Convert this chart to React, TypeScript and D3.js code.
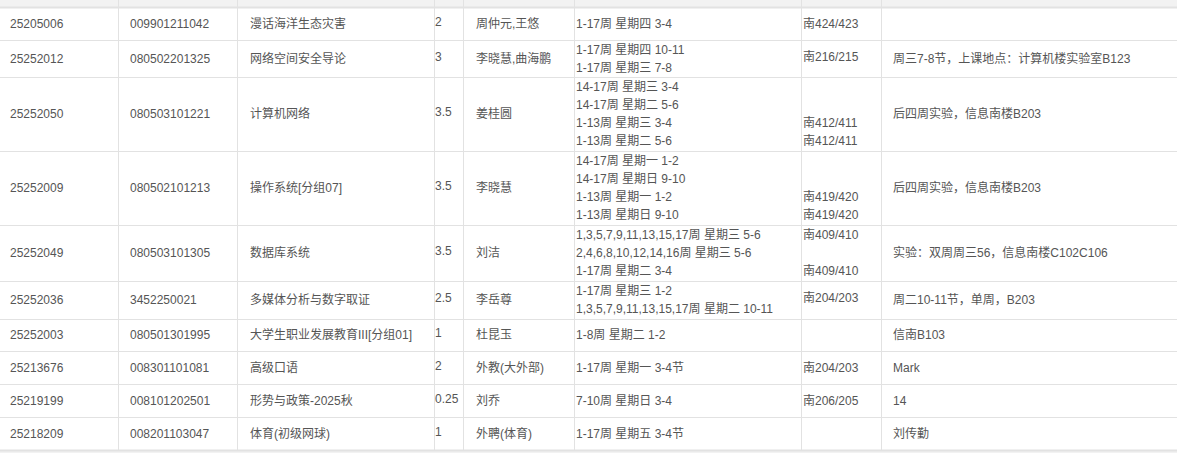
import React from 'react';
import * as d3 from 'd3';

const ids = ['25205006', '25252012', '25252050', '25252009', '25252049', '25252036', '25252003', '25213676', '25219199', '25218209'];
const codes = ['009901211042', '080502201325', '080503101221', '080502101213', '080503101305', '3452250021', '080501301995', '008301101081', '008101202501', '008201103047'];
const names = ['漫话海洋生态灾害', '网络空间安全导论', '计算机网络', '操作系统[分组07]', '数据库系统', '多媒体分析与数字取证', '大学生职业发展教育III[分组01]', '高级口语', '形势与政策-2025秋', '体育(初级网球)'];
const credits = ['2', '3', '3.5', '3.5', '3.5', '2.5', '1', '2', '0.25', '1'];
const teachers = ['周仲元,王悠', '李晓慧,曲海鹏', '姜桂圆', '李晓慧', '刘洁', '李岳尊', '杜昆玉', '外教(大外部)', '刘乔', '外聘(体育)'];
const times = [
  ['1-17周 星期四 3-4'],
  ['1-17周 星期四 10-11', '1-17周 星期三 7-8'],
  ['14-17周 星期三 3-4', '14-17周 星期二 5-6', '1-13周 星期三 3-4', '1-13周 星期二 5-6'],
  ['14-17周 星期一 1-2', '14-17周 星期日 9-10', '1-13周 星期一 1-2', '1-13周 星期日 9-10'],
  ['1,3,5,7,9,11,13,15,17周 星期三 5-6', '2,4,6,8,10,12,14,16周 星期三 5-6', '1-17周 星期二 3-4'],
  ['1-17周 星期三 1-2', '1,3,5,7,9,11,13,15,17周 星期二 10-11'],
  ['1-8周 星期二 1-2'],
  ['1-17周 星期一 3-4节'],
  ['7-10周 星期日 3-4'],
  ['1-17周 星期五 3-4节'],
];
// rooms: same length as times -> line-aligned, otherwise centred
const rooms = [
  ['南424/423'],
  ['南216/215'],
  ['', '', '南412/411', '南412/411'],
  ['', '', '南419/420', '南419/420'],
  ['南409/410', '', '南409/410'],
  ['南204/203'],
  [''],
  ['南204/203'],
  ['南206/205'],
  [''],
];
const remarks = ['', '周三7-8节，上课地点：计算机楼实验室B123', '后四周实验，信息南楼B203', '后四周实验，信息南楼B203', '实验：双周周三56，信息南楼C102C106', '周二10-11节，单周，B203', '信南B103', 'Mark', '14', '刘传勤'];

const W = 1177, H = 453;
const colEdges = [0, 118, 237, 434, 463, 574, 801, 881, W];
const textPad = [10, 12, 13, 1, 13, 2, 2, 12];
const lineH = 18;
const rowH = [33, 37, 74, 74, 56, 38, 32, 33, 33, 33];
const top0 = 7;
const rowTops = rowH.map((_, i) => top0 + d3.sum(rowH.slice(0, i)));
const yEnd = top0 + d3.sum(rowH);
const grid = '#e2e2e2';
const font = 'Arial, "Liberation Sans", "Noto Sans CJK SC", sans-serif';

export default function App() {
  const cells: React.ReactNode[] = [];
  ids.forEach((_, i) => {
    const y0 = rowTops[i];
    const cy = y0 + rowH[i] / 2;
    const single = [ids[i], codes[i], names[i], credits[i], teachers[i]];
    single.forEach((t, c) => {
      cells.push(<text key={`s${i}-${c}`} x={colEdges[c] + textPad[c]} y={c === 3 ? cy - 2 : cy} dy="0.35em">{t}</text>);
    });
    const tl = times[i];
    const lineY = (k: number) => cy + (k - (tl.length - 1) / 2) * lineH;
    tl.forEach((t, k) => cells.push(<text key={`t${i}-${k}`} x={colEdges[5] + textPad[5]} y={lineY(k)} dy="0.35em">{t}</text>));
    const rl = rooms[i];
    if (rl.length === tl.length) rl.forEach((t, k) => cells.push(<text key={`r${i}-${k}`} x={colEdges[6] + textPad[6]} y={lineY(k)} dy="0.35em">{t}</text>));
    else cells.push(<text key={`r${i}`} x={colEdges[6] + textPad[6]} y={cy - 2} dy="0.35em">{rl[0]}</text>);
    cells.push(<text key={`m${i}`} x={colEdges[7] + textPad[7]} y={cy} dy="0.35em">{remarks[i]}</text>);
  });

  return (
    <svg width={W} height={H} style={{ position: 'fixed', left: 0, top: 0, background: '#fff' }}>
      <rect x={0} y={0} width={W} height={top0} fill="#f2f2f2" />
      <rect x={0} y={yEnd} width={W} height={H - yEnd} fill="#f2f2f2" />
      {rowTops.concat([yEnd]).map((y, i) => (
        <line key={`h${i}`} x1={0} x2={W} y1={y + 0.5} y2={y + 0.5} stroke={grid} strokeWidth={i === 0 || i === rowTops.length ? 2 : 1} />
      ))}
      {colEdges.slice(1, -1).map((x, i) => (
        <line key={`v${i}`} x1={x + 0.5} x2={x + 0.5} y1={0} y2={yEnd} stroke={grid} />
      ))}
      <g fontFamily={font} fontSize={12} fill="#555">{cells}</g>
    </svg>
  );
}
